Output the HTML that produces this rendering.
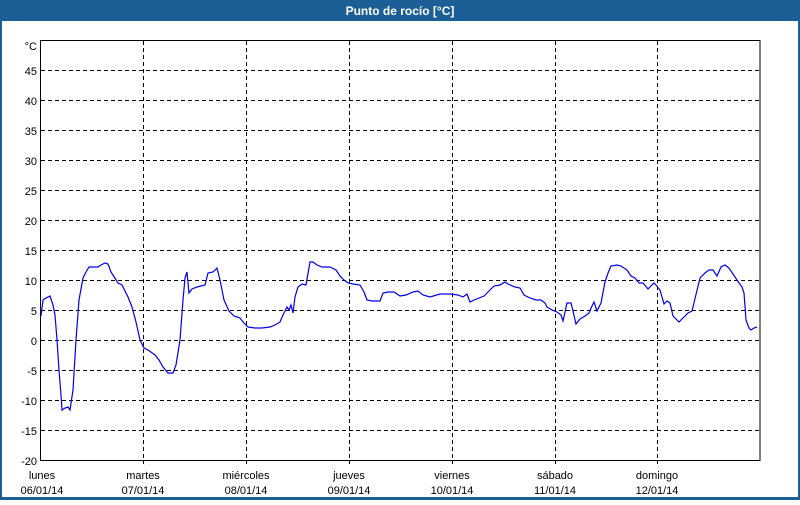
<!DOCTYPE html>
<html><head><meta charset="utf-8"><style>
body{margin:0;width:800px;height:500px;overflow:hidden;background:#fff;font-family:"Liberation Sans","DejaVu Sans",sans-serif}
</style></head><body>
<svg width="800" height="500" xmlns="http://www.w3.org/2000/svg" font-family="Liberation Sans, DejaVu Sans, sans-serif" font-size="11">
<rect x="0" y="0" width="800" height="500" fill="#1c5f97"/>
<rect x="2" y="21" width="796" height="476" fill="#fff"/>
<text x="400" y="15" fill="#fff" font-weight="bold" font-size="12" text-anchor="middle">Punto de rocío [°C]</text>
<g stroke="#000" stroke-dasharray="4,3" stroke-width="1">
<line x1="41" x2="760" y1="70.5" y2="70.5"/><line x1="41" x2="760" y1="100.5" y2="100.5"/>
<line x1="41" x2="760" y1="130.5" y2="130.5"/><line x1="41" x2="760" y1="160.5" y2="160.5"/>
<line x1="41" x2="760" y1="190.5" y2="190.5"/><line x1="41" x2="760" y1="220.5" y2="220.5"/>
<line x1="41" x2="760" y1="250.5" y2="250.5"/><line x1="41" x2="760" y1="280.5" y2="280.5"/>
<line x1="41" x2="760" y1="310.5" y2="310.5"/><line x1="41" x2="760" y1="340.5" y2="340.5"/>
<line x1="41" x2="760" y1="370.5" y2="370.5"/><line x1="41" x2="760" y1="400.5" y2="400.5"/>
<line x1="41" x2="760" y1="430.5" y2="430.5"/>
<line x1="143.5" x2="143.5" y1="41" y2="464"/><line x1="246.5" x2="246.5" y1="41" y2="464"/>
<line x1="349.5" x2="349.5" y1="41" y2="464"/><line x1="452.5" x2="452.5" y1="41" y2="464"/>
<line x1="555.5" x2="555.5" y1="41" y2="464"/><line x1="657.5" x2="657.5" y1="41" y2="464"/>
</g>
<rect x="40.5" y="40.5" width="719.5" height="420" fill="none" stroke="#000"/>
<g text-anchor="end" fill="#000" font-size="11">
<text x="37" y="50">°C</text><text x="37" y="75">45</text><text x="37" y="105">40</text><text x="37" y="135">35</text>
<text x="37" y="165">30</text><text x="37" y="195">25</text><text x="37" y="225">20</text><text x="37" y="255">15</text>
<text x="37" y="285">10</text><text x="37" y="315">5</text><text x="37" y="345">0</text><text x="37" y="375">-5</text>
<text x="37" y="405">-10</text><text x="37" y="435">-15</text><text x="37" y="465">-20</text>
</g>
<g text-anchor="middle" fill="#000" font-size="11">
<text x="42" y="479">lunes</text><text x="42" y="494">06/01/14</text>
<text x="143" y="479">martes</text><text x="143" y="494">07/01/14</text>
<text x="246" y="479">miércoles</text><text x="246" y="494">08/01/14</text>
<text x="349" y="479">jueves</text><text x="349" y="494">09/01/14</text>
<text x="452" y="479">viernes</text><text x="452" y="494">10/01/14</text>
<text x="555" y="479">sábado</text><text x="555" y="494">11/01/14</text>
<text x="657" y="479">domingo</text><text x="657" y="494">12/01/14</text>
</g>
<polyline fill="none" stroke="#0000ee" stroke-width="1.2" points="41,316 43,300 46,298 50,296 53,305 55,315 57,340 59,370 61,395 62,410 65,408 68,407 70,410 73,390 76,340 79,300 83,278 86,272 89,267 92,267 95,267 98,267 101,265 105,263 108,264 111,272 118,283 122,285 128,297 132,307 136,322 140,340 144,348 148,350 155,355 159,360 163,367 168,373 173,373 176,365 180,340 183,300 185,278 187,272 189,293 192,289 197,287 205,285 208,273 213,272 217,268 220,280 224,300 229,311 234,316 240,318 244,323 248,327 255,328 262,328 270,327 275,325 280,322 283,315 287,307 289,310 291,305 293,313 295,297 298,287 302,284 306,285 310,262 313,262 317,265 322,267 330,267 336,270 340,276 344,280 348,283 353,284 360,285 364,292 367,300 372,301 380,301 383,293 388,292 394,292 400,296 406,295 413,292 418,291 423,295 430,297 440,294 450,294 458,295 463,297 467,294 470,302 474,300 484,296 490,290 494,286 500,285 505,282 508,284 515,287 520,288 524,295 530,298 536,300 541,300 545,303 547,307 552,310 557,312 561,315 563,321 567,303 571,303 573,311 576,324 580,319 585,316 589,313 592,306 594,302 597,311 601,303 605,282 608,273 611,266 617,265 621,266 627,270 631,276 635,278 639,283 643,283 648,289 654,283 656,285 660,290 664,304 667,301 670,303 673,316 679,322 684,317 688,313 692,311 700,278 705,273 709,270 713,270 717,276 721,267 725,265 729,268 733,274 737,280 742,287 744,293 746,320 749,328 751,330 754,328 757,327"/>
</svg>
</body></html>
